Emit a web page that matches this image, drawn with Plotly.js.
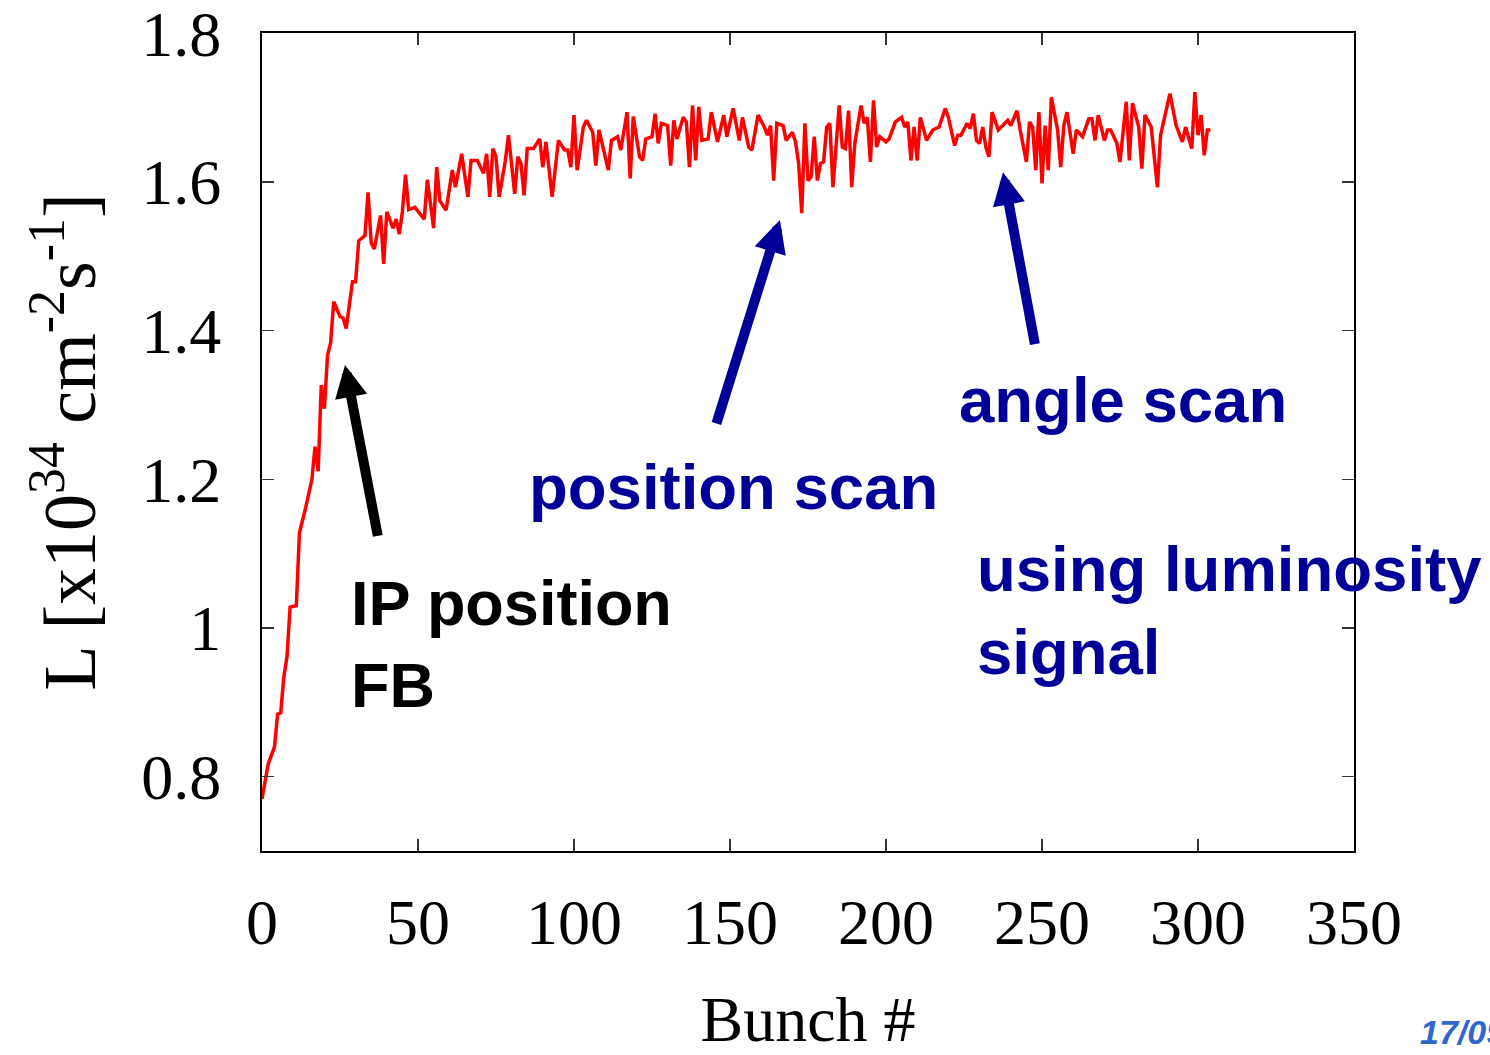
<!DOCTYPE html>
<html>
<head>
<meta charset="utf-8">
<script src="https://cdn.plot.ly/plotly-3.0.1.min.js"></script>
<style>html,body{margin:0;padding:0;background:#fff;}#chart{width:1490px;height:1055px;}</style>
</head>
<body>
<div id="chart"></div>
<script>
// Bunch number and luminosity (x10^34 cm^-2 s^-1)
var bunch = [
  0,2,4,5,6,7,8,9,11,12,
  14,16,17,18,19,20,21,22,23,25,
  26,27,29,30,31,33,34,35,36,38,
  39,40,42,43,44,45,46,47,49,52,
  53,55,56,57,59,61,62,64,66,67,
  69,71,72,73,74,75,76,78,79,81,
  82,83,84,85,87,89,90,91,93,95,
  97,98,99,100,101,103,104,106,107,108,
  109,111,112,114,115,117,118,119,121,122,
  123,125,126,127,128,130,131,132,133,135,
  136,137,138,139,140,141,143,144,146,148,
  149,151,153,154,156,157,159,161,162,163,
  164,165,167,168,170,171,172,173,174,175,
  176,177,178,179,180,181,182,183,185,186,
  187,188,189,190,192,193,194,195,196,197,
  198,200,201,203,205,206,207,208,209,210,
  211,213,215,217,219,220,222,223,224,226,
  227,228,229,230,231,232,233,234,236,239,
  240,242,243,245,246,247,248,249,250,251,
  252,253,255,256,257,258,260,261,263,265,
  266,267,268,270,271,272,274,275,277,278,
  279,281,282,283,285,287,288,291,293,295,
  296,298,299,300,301,302,303,304
];
var lum = [
  0.77,0.817,0.840,0.884,0.886,0.934,0.961,1.028,1.03,1.128,
  1.162,1.20,1.244,1.211,1.327,1.295,1.367,1.384,1.439,1.419,
  1.417,1.403,1.466,1.466,1.521,1.528,1.586,1.518,1.51,1.555,
  1.49,1.56,1.538,1.55,1.53,1.56,1.61,1.563,1.566,1.55,
  1.603,1.538,1.62,1.575,1.562,1.616,1.593,1.638,1.58,1.629,
  1.629,1.612,1.638,1.58,1.645,1.634,1.58,1.629,1.663,1.584,
  1.634,1.625,1.582,1.645,1.645,1.658,1.62,1.654,1.58,1.656,
  1.643,1.643,1.62,1.69,1.616,1.674,1.683,1.667,1.622,1.67,
  1.652,1.616,1.656,1.661,1.643,1.694,1.605,1.688,1.634,1.629,
  1.658,1.661,1.692,1.652,1.679,1.676,1.622,1.683,1.658,1.687,
  1.681,1.62,1.703,1.629,1.701,1.656,1.658,1.694,1.654,1.69,
  1.661,1.699,1.656,1.687,1.647,1.643,1.69,1.674,1.663,1.676,
  1.602,1.679,1.676,1.656,1.667,1.654,1.625,1.558,1.679,1.602,
  1.607,1.661,1.602,1.625,1.627,1.674,1.679,1.593,1.703,1.647,
  1.645,1.696,1.593,1.652,1.703,1.679,1.687,1.627,1.71,1.647,
  1.661,1.654,1.658,1.681,1.687,1.674,1.681,1.629,1.674,1.629,
  1.687,1.656,1.67,1.674,1.699,1.687,1.649,1.663,1.663,1.679,
  1.672,1.692,1.656,1.652,1.674,1.647,1.634,1.694,1.67,1.683,
  1.676,1.696,1.67,1.627,1.681,1.674,1.616,1.694,1.598,1.676,
  1.616,1.714,1.67,1.62,1.676,1.694,1.638,1.67,1.661,1.685,
  1.685,1.656,1.69,1.656,1.67,1.67,1.652,1.627,1.708,1.629,
  1.706,1.674,1.618,1.69,1.674,1.593,1.663,1.719,1.676,1.654,
  1.674,1.645,1.721,1.663,1.69,1.636,1.67,1.67
];

var xTickVals = [0, 50, 100, 150, 200, 250, 300, 350];
var yTickVals = [0.8, 1.0, 1.2, 1.4, 1.6, 1.8];
var yTickText = ["0.8", "1", "1.2", "1.4", "1.6", "1.8"];

var serif = "Liberation Serif, Times New Roman, serif";
var sans = "Liberation Sans, Arial, sans-serif";
var navy = "#000099";

var trace = {
  x: bunch, y: lum, type: "scatter", mode: "lines",
  line: {color: "#ff0000", width: 3.5},
  hoverinfo: "skip", showlegend: false
};

var axisCommon = {
  showline: true, linecolor: "#000", linewidth: 2, mirror: "allticks",
  ticks: "inside", ticklen: 12, tickwidth: 1.5, tickcolor: "#333",
  showgrid: false, zeroline: false, automargin: false,
  ticklabeloverflow: "allow",
  tickfont: {family: serif, size: 64, color: "#000"}
};

var layout = {
  width: 1490, height: 1055,
  margin: {l: 262, r: 136, t: 33, b: 204},
  paper_bgcolor: "#fff", plot_bgcolor: "#fff",
  showlegend: false,
  xaxis: Object.assign({}, axisCommon, {
    range: [0, 350], tickmode: "array", tickvals: xTickVals,
    ticklabelstandoff: 14,
    title: {text: "Bunch #", font: {family: serif, size: 64, color: "#000"}, standoff: 72}
  }),
  yaxis: Object.assign({}, axisCommon, {
    range: [0.7, 1.8005], tickmode: "array", tickvals: yTickVals, ticktext: yTickText,
    ticklabelstandoff: 26,
    title: {text: "L [x10<sup>34</sup> cm<sup>-2</sup>s<sup>-1</sup>]", font: {family: serif, size: 74, color: "#000"}, standoff: 21}
  }),
  annotations: [
    {x: 26.6, y: 1.354, xref: "x", yref: "y", axref: "x", ayref: "y", ax: 37.2, ay: 1.122,
     showarrow: true, arrowhead: 2, arrowsize: 0.65, arrowwidth: 10, arrowcolor: "#000", text: ""},
    {x: 166.0, y: 1.549, xref: "x", yref: "y", axref: "x", ayref: "y", ax: 145.5, ay: 1.273,
     showarrow: true, arrowhead: 2, arrowsize: 0.65, arrowwidth: 10, arrowcolor: navy, text: ""},
    {x: 237.5, y: 1.613, xref: "x", yref: "y", axref: "x", ayref: "y", ax: 247.8, ay: 1.380,
     showarrow: true, arrowhead: 2, arrowsize: 0.65, arrowwidth: 10, arrowcolor: navy, text: ""},
    {x: 28.0, y: 0.978, xref: "x", yref: "y", xanchor: "left", yanchor: "middle", align: "left",
     showarrow: false, text: "<b>IP position<br>FB</b>", font: {family: sans, size: 63, color: "#000"}},
    {x: 84.8, y: 1.19, xref: "x", yref: "y", xanchor: "left", yanchor: "middle", align: "left",
     showarrow: false, text: "<b>position scan</b>", font: {family: sans, size: 63.5, color: navy}},
    {x: 222.9, y: 1.3065, xref: "x", yref: "y", xanchor: "left", yanchor: "middle", align: "left",
     showarrow: false, text: "<b>angle scan</b>", font: {family: sans, size: 63.5, color: navy}},
    {x: 228.4, y: 1.024, xref: "x", yref: "y", xanchor: "left", yanchor: "middle", align: "left",
     showarrow: false, text: "<b>using luminosity<br>signal</b>", font: {family: sans, size: 63.5, color: navy}},
    {x: 1.0586, y: -0.2213, xref: "paper", yref: "paper", xanchor: "left", yanchor: "middle",
     showarrow: false, text: "<b><i>17/09</i></b>", font: {family: sans, size: 34, color: "#3366cc"}}
  ]
};

Plotly.newPlot("chart", [trace], layout, {staticPlot: true, displayModeBar: false});
</script>
</body>
</html>
